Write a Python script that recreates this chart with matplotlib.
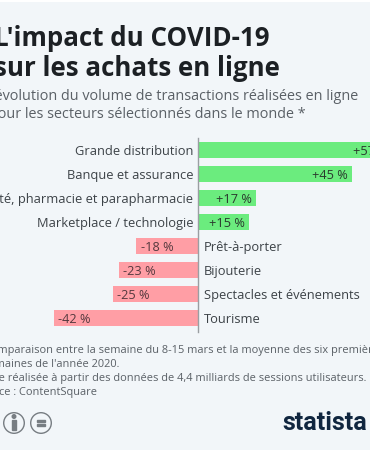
import matplotlib.pyplot as plt
from matplotlib.patches import Circle, Rectangle

# Values
categories = ["Grande distribution", "Banque et assurance",
              "Santé, pharmacie et parapharmacie", "Marketplace / technologie",
              "Prêt-à-porter", "Bijouterie", "Spectacles et événements", "Tourisme"]
values = [57, 45, 17, 15, -18, -23, -25, -42]
value_labels = ["+57 %", "+45 %", "+17 %", "+15 %", "-18 %", "-23 %", "-25 %", "-42 %"]

title_lines = ["L'impact du COVID-19", "sur les achats en ligne"]
subtitle_lines = ["L'évolution du volume de transactions réalisées en ligne",
                  "pour les secteurs sélectionnés dans le monde *"]
note_lines = ["* Comparaison entre la semaine du 8-15 mars et la moyenne des six premières",
              "semaines de l'année 2020.",
              "Étude réalisée à partir des données de 4,4 milliards de sessions utilisateurs.",
              "Source : ContentSquare"]

W, H = 370, 450
BG = "#f2f6f9"
GREEN = "#6bec7e"
RED = "#ff9ea5"
TEXT = "#3c4247"
ICON = "#777d82"

plt.rcParams['font.family'] = ['Open Sans', 'DejaVu Sans']

fig = plt.figure(figsize=(W / 100, H / 100), dpi=100, facecolor=BG)

# full figure axes, scaled so 1 % = 3.42 px and one bar row = 24 px
ax = fig.add_axes([0, 0, 1, 1])
ax.set_xlim(-198 / 3.42, (W - 198) / 3.42)
ax.set_ylim((H - 150) / 24, -150 / 24)
ax.axis('off')


def px(x, y):
    return x / W, 1 - y / H


# white strip at the very top
fig.patches.append(Rectangle((0, 1 - 2 / H), 1, 2 / H, transform=fig.transFigure,
                             facecolor="white", edgecolor="none"))

for i, v in enumerate(values):
    ax.barh(i, v, height=0.63, color=GREEN if v > 0 else RED, zorder=2)
    if v > 0:
        ax.text(v - 1.2, i, value_labels[i], ha='right', va='center_baseline',
                fontsize=9.2, color="#2a3a2e", zorder=3)
        ax.text(-1.4, i, categories[i], ha='right', va='center_baseline',
                fontsize=9.3, color=TEXT)
    else:
        ax.text(v + 1.2, i, value_labels[i], ha='left', va='center_baseline',
                fontsize=9.2, color="#54393e", zorder=3)
        ax.text(1.75, i, categories[i], ha='left', va='center_baseline',
                fontsize=9.3, color=TEXT)

ax.axvline(0, ymin=1 - 332 / H, ymax=1 - 138 / H, color="#9a9ea2", lw=1, zorder=4)

# title block
for line, y in zip(title_lines, [38, 68]):
    fig.text(*px(-6, y), line, fontsize=18.6, fontweight='bold', color="#1c2024", va='center')
for line, y, x in zip(subtitle_lines, [97, 115], [-16, -11]):
    fig.text(*px(x, y), line, fontsize=10.4, color="#5a6066", va='center')

# notes
for line, y, x in zip(note_lines, [350.5, 364.5, 377.5, 393], [-25, -17, -25, -25]):
    fig.text(*px(x, y), line, fontsize=7.9, color="#5a6066", va='center')

# licence icons
for cx in [14, 41]:
    fig.patches.append(Circle((cx, H - 423), 10.3, transform=None, facecolor="none",
                              edgecolor=ICON, lw=1))
fig.patches.append(Circle((14, H - 416.5), 1.8, transform=None, color=ICON))
fig.patches.append(Rectangle((11.8, H - 430), 4.4, 10.5, transform=None, color=ICON))
fig.patches.append(Rectangle((37, H - 421.5), 8, 1.2, transform=None, color=ICON))
fig.patches.append(Rectangle((37, H - 425.5), 8, 1.2, transform=None, color=ICON))

fig.text(*px(367, 423), "statista", fontsize=18, fontweight='bold', color="#10263f",
         family=['Roboto', 'DejaVu Sans'], ha='right', va='center')

fig.savefig("out.png", dpi=100, facecolor=BG)
